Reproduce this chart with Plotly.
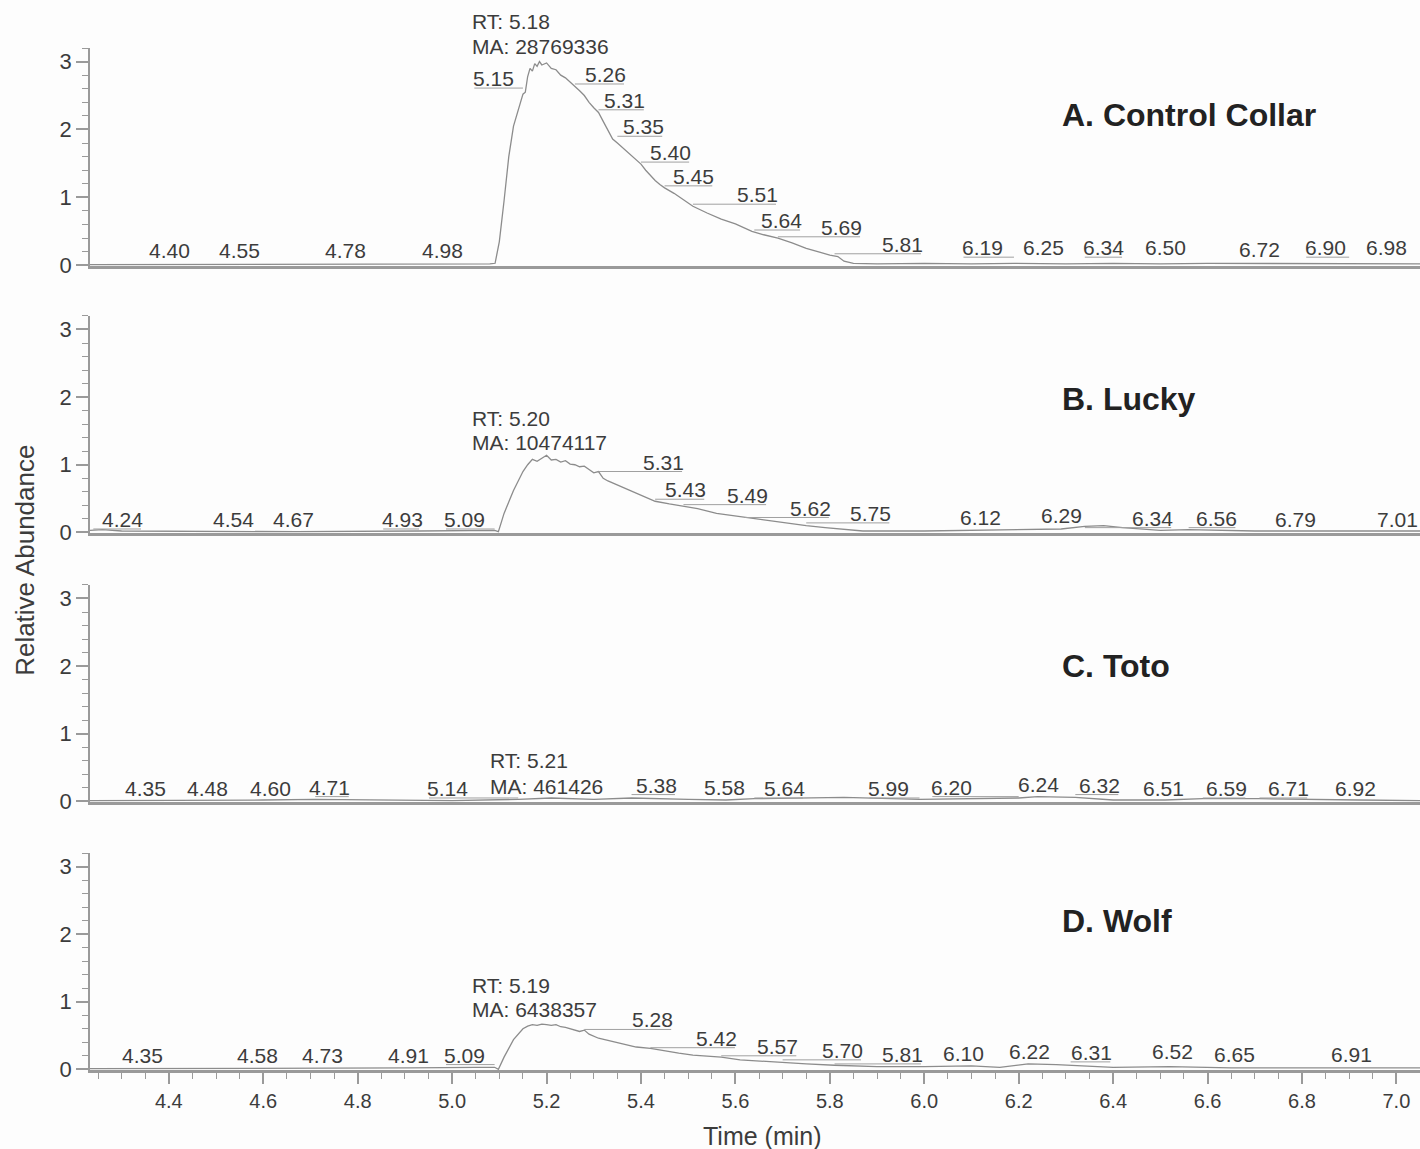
import plotly.graph_objects as go

# ---------------- DATA ----------------
panel_names = ["A. Control Collar", "B. Lucky", "C. Toto", "D. Wolf"]
rt_text = ["RT: 5.18", "RT: 5.20", "RT: 5.21", "RT: 5.19"]
ma_text = ["MA: 28769336", "MA: 10474117", "MA: 461426", "MA: 6438357"]

time_a = [4.233, 4.30, 4.40, 4.55, 4.78, 4.98, 5.05, 5.08, 5.091, 5.10, 5.11, 5.12, 5.13, 5.14,
          5.15, 5.155, 5.16, 5.165, 5.17, 5.175, 5.18, 5.185, 5.19, 5.20, 5.21, 5.22, 5.23, 5.24,
          5.25, 5.26, 5.27, 5.28, 5.29, 5.30, 5.31, 5.32, 5.33, 5.34, 5.35, 5.36, 5.37, 5.38, 5.39,
          5.40, 5.41, 5.42, 5.43, 5.44, 5.45, 5.47, 5.49, 5.51, 5.54, 5.57, 5.60, 5.635, 5.66, 5.69,
          5.72, 5.75, 5.78, 5.80, 5.817, 5.83, 5.85, 5.90, 6.00, 6.10, 6.19, 6.30, 6.40, 6.50, 6.60,
          6.72, 6.80, 6.90, 6.98, 7.05]
abund_a = [0.01, 0.01, 0.01, 0.01, 0.01, 0.01, 0.01, 0.02, 0.03, 0.35, 0.95, 1.60, 2.05, 2.30,
           2.52, 2.55, 2.78, 2.90, 2.86, 2.97, 2.93, 3.00, 2.95, 2.98, 2.90, 2.88, 2.80, 2.76,
           2.70, 2.63, 2.57, 2.50, 2.40, 2.32, 2.25, 2.12, 2.00, 1.86, 1.80, 1.74, 1.68, 1.62, 1.55,
           1.49, 1.40, 1.32, 1.25, 1.19, 1.14, 1.06, 0.96, 0.87, 0.77, 0.68, 0.61, 0.50, 0.45, 0.40,
           0.33, 0.25, 0.19, 0.15, 0.13, 0.06, 0.03, 0.02, 0.03, 0.02, 0.03, 0.02, 0.03, 0.02, 0.03,
           0.03, 0.02, 0.03, 0.03, 0.02]

time_b = [4.233, 4.26, 4.30, 4.54, 4.67, 4.93, 5.06, 5.09, 5.098, 5.11, 5.13, 5.15, 5.16, 5.17,
          5.18, 5.19, 5.20, 5.21, 5.22, 5.23, 5.24, 5.25, 5.26, 5.27, 5.28, 5.29, 5.30, 5.31, 5.32,
          5.33, 5.35, 5.37, 5.39, 5.41, 5.43, 5.46, 5.49, 5.52, 5.56, 5.60, 5.64, 5.68, 5.72, 5.75,
          5.79, 5.83, 5.87, 6.00, 6.12, 6.20, 6.29, 6.34, 6.38, 6.42, 6.50, 6.56, 6.70, 6.79, 7.01, 7.05]
abund_b = [0.03, 0.04, 0.02, 0.01, 0.01, 0.02, 0.02, 0.03, 0.01, 0.28, 0.62, 0.90, 1.00, 1.08,
           1.05, 1.10, 1.14, 1.07, 1.08, 1.04, 1.06, 1.01, 1.00, 0.97, 0.98, 0.93, 0.88, 0.90, 0.80,
           0.76, 0.70, 0.64, 0.57, 0.52, 0.46, 0.42, 0.39, 0.35, 0.28, 0.24, 0.20, 0.17, 0.13, 0.10,
           0.07, 0.04, 0.02, 0.02, 0.03, 0.04, 0.05, 0.09, 0.10, 0.07, 0.03, 0.04, 0.02, 0.02, 0.02, 0.02]

time_c = [4.233, 4.35, 4.48, 4.60, 4.71, 5.00, 5.14, 5.21, 5.30, 5.38, 5.50, 5.58, 5.64, 5.83,
          5.99, 6.20, 6.24, 6.32, 6.40, 6.51, 6.59, 6.71, 6.92, 7.05]
abund_c = [0.01, 0.01, 0.01, 0.02, 0.03, 0.01, 0.03, 0.05, 0.03, 0.05, 0.03, 0.02, 0.04, 0.06,
           0.03, 0.05, 0.07, 0.06, 0.02, 0.02, 0.04, 0.04, 0.02, 0.01]

time_d = [4.233, 4.35, 4.58, 4.73, 4.91, 5.05, 5.09, 5.098, 5.11, 5.13, 5.15, 5.16, 5.17, 5.18,
          5.19, 5.20, 5.21, 5.22, 5.23, 5.24, 5.25, 5.26, 5.27, 5.28, 5.29, 5.31, 5.33, 5.35, 5.37,
          5.39, 5.42, 5.45, 5.48, 5.51, 5.54, 5.57, 5.61, 5.65, 5.70, 5.75, 5.81, 5.90, 6.00, 6.10,
          6.16, 6.22, 6.28, 6.31, 6.40, 6.52, 6.65, 6.91, 7.05]
abund_d = [0.01, 0.01, 0.01, 0.01, 0.02, 0.03, 0.03, 0.00, 0.18, 0.44, 0.60, 0.64, 0.66, 0.65,
           0.67, 0.66, 0.65, 0.66, 0.63, 0.62, 0.60, 0.57, 0.56, 0.58, 0.52, 0.46, 0.43, 0.39, 0.36,
           0.33, 0.31, 0.27, 0.24, 0.21, 0.19, 0.18, 0.14, 0.12, 0.10, 0.08, 0.06, 0.04, 0.04, 0.05,
           0.03, 0.08, 0.07, 0.06, 0.03, 0.04, 0.02, 0.02, 0.02]

# peak retention-time labels per panel
peaks_a = ["5.15", "5.26", "5.31", "5.35", "5.40", "5.45", "5.51", "5.64", "5.69", "5.81", "6.19",
           "6.25", "6.34", "6.50", "6.72", "6.90", "6.98", "4.40", "4.55", "4.78", "4.98"]
peaks_b = ["5.31", "5.43", "5.49", "5.62", "5.75", "6.12", "6.29", "6.34", "6.56", "6.79", "7.01",
           "4.24", "4.54", "4.67", "4.93", "5.09"]
peaks_c = ["4.35", "4.48", "4.60", "4.71", "5.14", "5.38", "5.58", "5.64", "5.99", "6.20", "6.24",
           "6.32", "6.51", "6.59", "6.71", "6.92"]
peaks_d = ["5.28", "5.42", "5.57", "5.70", "5.81", "6.10", "6.22", "6.31", "6.52", "6.65", "6.91",
           "4.35", "4.58", "4.73", "4.91", "5.09"]

x_tick_vals = [4.4, 4.6, 4.8, 5.0, 5.2, 5.4, 5.6, 5.8, 6.0, 6.2, 6.4, 6.6, 6.8, 7.0]
y_tick_vals = [0, 1, 2, 3]

# ---------------- LAYOUT (label placement, in axis units) ----------------
pos_a_x = [5.087, 5.324, 5.366, 5.405, 5.462, 5.511, 5.646, 5.697, 5.824, 5.953, 6.123,
           6.252, 6.379, 6.511, 6.710, 6.849, 6.979, 4.402, 4.549, 4.775, 4.979]
pos_a_y = [2.75, 2.81, 2.43, 2.04, 1.66, 1.31, 1.04, 0.66, 0.56, 0.31, 0.26,
           0.26, 0.26, 0.26, 0.24, 0.26, 0.26, 0.22, 0.22, 0.22, 0.22]
pos_b_x = [5.447, 5.494, 5.625, 5.758, 5.886, 6.119, 6.290, 6.483, 6.619, 6.786, 7.002,
           4.301, 4.536, 4.663, 4.894, 5.027]
pos_b_y = [1.04, 0.63, 0.55, 0.36, 0.28, 0.22, 0.25, 0.21, 0.21, 0.19, 0.19,
           0.19, 0.19, 0.19, 0.19, 0.19]
pos_c_x = [4.350, 4.481, 4.616, 4.741, 4.991, 5.432, 5.576, 5.703, 5.924, 6.057, 6.241,
           6.371, 6.506, 6.640, 6.771, 6.913]
pos_c_y = [0.19, 0.19, 0.19, 0.21, 0.19, 0.24, 0.21, 0.19, 0.19, 0.21, 0.25,
           0.24, 0.19, 0.19, 0.19, 0.19]
pos_d_x = [5.424, 5.559, 5.689, 5.826, 5.953, 6.083, 6.222, 6.354, 6.525, 6.657, 6.905,
           4.345, 4.587, 4.725, 4.907, 5.027]
pos_d_y = [0.73, 0.46, 0.34, 0.28, 0.22, 0.24, 0.27, 0.25, 0.27, 0.22, 0.22,
           0.21, 0.21, 0.21, 0.21, 0.21]

rtma_x = [5.038, 5.038, 5.076, 5.038]
rt_y = [3.59, 1.69, 0.61, 1.24]
ma_y = [3.22, 1.33, 0.22, 0.88]
title_x = 6.288
title_y = [2.21, 1.97, 2.00, 2.19]

domains = [[0.7867, 1.0], [0.5254, 0.7378], [0.2622, 0.4746], [0.0, 0.2123]]
x_range = [4.233, 7.05]
y_range = [-0.01, 3.2]

FONT = "Liberation Sans, Arial, sans-serif"
LINE = "#8c8c8c"
AXIS = "#9a9a9a"
TXT = "#3c3c3c"
LBL = 21

times = [time_a, time_b, time_c, time_d]
abunds = [abund_a, abund_b, abund_c, abund_d]
peaks = [peaks_a, peaks_b, peaks_c, peaks_d]
pos_x = [pos_a_x, pos_b_x, pos_c_x, pos_d_x]
pos_y = [pos_a_y, pos_b_y, pos_c_y, pos_d_y]


def to_paper(i, yv):
    d0, d1 = domains[i]
    return d0 + (yv - y_range[0]) / (y_range[1] - y_range[0]) * (d1 - d0)


fig = go.Figure()
annotations = []

for i in range(4):
    sfx = "" if i == 0 else str(i + 1)
    xa, ya = "x" + sfx, "y" + sfx
    fig.add_trace(go.Scatter(x=times[i], y=abunds[i], mode="lines",
                             line=dict(color=LINE, width=1.3), xaxis=xa, yaxis=ya,
                             showlegend=False, hoverinfo="skip"))
    # leader lines from peak to label
    lx, ly = [], []
    for p, px, py in zip(peaks[i], pos_x[i], pos_y[i]):
        rt = float(p)
        if abs(px - rt) > 0.03:
            sgn = 1 if px > rt else -1
            yy = py - 0.14
            lx += [rt, px + 0.04 * sgn, None]
            ly += [yy, yy, None]
    fig.add_trace(go.Scatter(x=lx, y=ly, mode="lines", line=dict(color="#a0a0a0", width=1),
                             xaxis=xa, yaxis=ya, showlegend=False, hoverinfo="skip"))
    for p, px, py in zip(peaks[i], pos_x[i], pos_y[i]):
        annotations.append(dict(x=px, y=py, xref=xa, yref=ya, text=p, showarrow=False,
                                xanchor="center", yanchor="middle",
                                font=dict(family=FONT, size=LBL, color=TXT)))
    # RT / MA labels (paper y so they can sit above the axis range)
    annotations.append(dict(x=rtma_x[i], y=to_paper(i, rt_y[i]), xref=xa, yref="paper",
                            text=rt_text[i], showarrow=False, xanchor="left", yanchor="middle",
                            font=dict(family=FONT, size=LBL, color=TXT)))
    annotations.append(dict(x=rtma_x[i], y=to_paper(i, ma_y[i]), xref=xa, yref="paper",
                            text=ma_text[i], showarrow=False, xanchor="left", yanchor="middle",
                            font=dict(family=FONT, size=LBL, color=TXT)))
    annotations.append(dict(x=title_x, y=title_y[i], xref=xa, yref=ya,
                            text="<b>" + panel_names[i] + "</b>", showarrow=False,
                            xanchor="left", yanchor="middle",
                            font=dict(family=FONT, size=32, color="#222222")))

    bottom = (i == 3)
    xaxis = dict(domain=[0, 1], range=x_range, anchor=ya, showgrid=False, zeroline=False,
                 showline=True, linecolor=AXIS, linewidth=2.5,
                 showticklabels=bottom, ticks="outside" if bottom else "",
                 tickvals=x_tick_vals if bottom else [],
                 ticktext=[f"{v:.1f}" for v in x_tick_vals] if bottom else [],
                 ticklen=11, tickwidth=1.5, tickcolor=AXIS,
                 tickfont=dict(family=FONT, size=20, color=TXT))
    if bottom:
        xaxis["minor"] = dict(dtick=0.05, tick0=4.25, ticks="outside", ticklen=6,
                              tickwidth=1.2, tickcolor=AXIS)
    else:
        xaxis["matches"] = "x4"
    yaxis = dict(domain=domains[i], range=y_range, anchor=xa, showgrid=False, zeroline=False,
                 showline=True, linecolor=AXIS, linewidth=1.5,
                 tickvals=y_tick_vals, ticks="outside", ticklen=12, tickwidth=1.5, tickcolor=AXIS,
                 tickfont=dict(family=FONT, size=22, color=TXT),
                 minor=dict(dtick=0.2, tick0=0, ticks="outside", ticklen=6, tickwidth=1.2,
                            tickcolor=AXIS))
    fig.update_layout(**{"xaxis" + sfx: xaxis, "yaxis" + sfx: yaxis})

annotations.append(dict(x=-0.049, y=0.499, xref="paper", yref="paper", text="Relative Abundance",
                        textangle=-90, showarrow=False, xanchor="center", yanchor="middle",
                        font=dict(family=FONT, size=26, color=TXT)))
annotations.append(dict(x=0.506, y=-0.0646, xref="paper", yref="paper", text="Time (min)",
                        showarrow=False, xanchor="center", yanchor="middle",
                        font=dict(family=FONT, size=25, color=TXT)))

fig.update_layout(width=1420, height=1149, margin=dict(l=90, r=0, t=48, b=79),
                  paper_bgcolor="#fdfdfd", plot_bgcolor="#fdfdfd",
                  annotations=annotations, showlegend=False)

fig.write_html("out.html", config={"displayModeBar": False},
               post_script="document.body.style.margin='0';document.body.style.padding='0';")
